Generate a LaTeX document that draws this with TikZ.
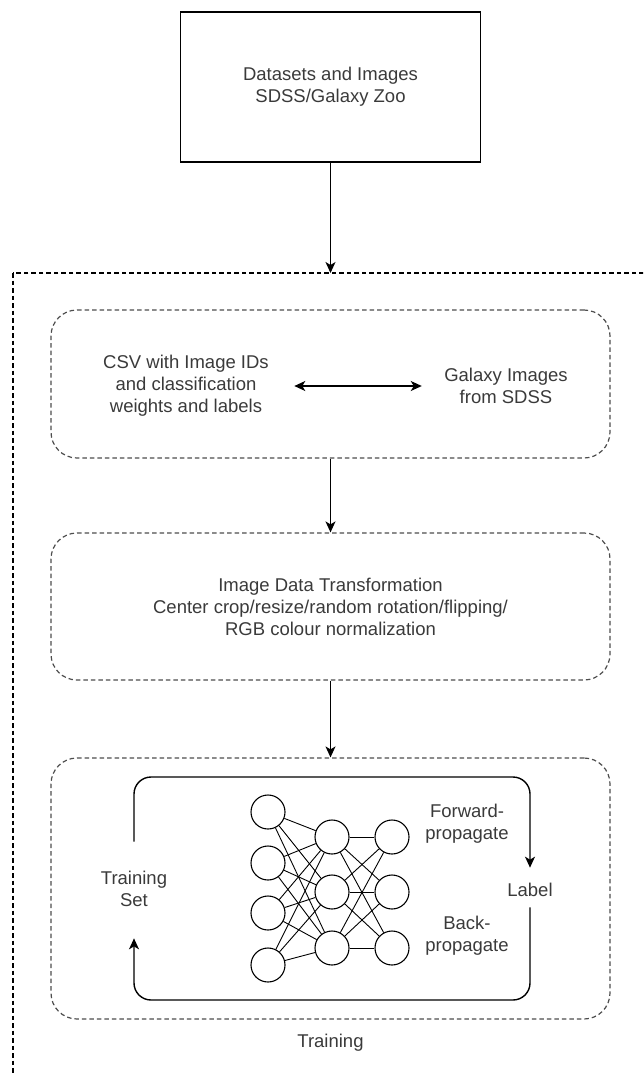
\documentclass[tikz,border=0pt]{standalone}
\usepackage{fontspec}
\setmainfont{Liberation Sans}
\usetikzlibrary{arrows.meta}
\definecolor{txtgray}{HTML}{3A3A3A}
\definecolor{dashgray}{HTML}{4D4D4D}

\begin{document}
\begin{tikzpicture}[x=1pt, y=-1pt,
    every node/.style={font=\fontsize{18.5}{22}\selectfont, text=txtgray, align=center},
    box/.style={draw, line width=1.4pt, minimum width=300pt, minimum height=150pt},
    stage/.style={draw=dashgray, dash pattern=on 4.5pt off 3pt, line width=1.2pt, rounded corners=26pt, minimum width=559pt},
    neuron/.style={draw, circle, line width=1.1pt, minimum size=34pt, inner sep=0pt},
    flow/.style={line width=1.4pt, -{Stealth[length=11pt, width=10pt, inset=3pt]}},
    link/.style={line width=0.9pt}]
    \useasboundingbox (0,0) rectangle (643,1073);
    \clip (0,0) rectangle (643,1073);

    \draw[dash pattern=on 4.5pt off 3pt, line width=1.2pt] (13,273) rectangle (700,1120);
    \coordinate (frametop) at (330.5,273);

    \node (data) [box] at (330.5,87) {Datasets and Images\\SDSS/Galaxy Zoo};
    \draw[flow] (data) -- (frametop);

    \node (prep) [stage, minimum height=148pt] at (330.5,384) {};
    \node (csv) at (186,386) {CSV with Image IDs\\and classification\\weights and labels};
    \node (galaxy) at (506,386) {Galaxy Images\\from SDSS};
    \draw[line width=1.4pt, {Stealth[length=11pt, width=10pt, inset=3pt]}-{Stealth[length=11pt, width=10pt, inset=3pt]},
        shorten <=22pt, shorten >=19pt] (csv) -- (galaxy);

    \node (transform) [stage, minimum height=147pt] at (330.5,606.5)
        {Image Data Transformation\\Center crop/resize/random rotation/flipping/\\RGB colour normalization};
    \draw[flow] (prep) -- (transform);

    \node (train) [stage, minimum height=261pt] at (330.5,888.5) {};
    \draw[flow] (transform) -- (train);
    \node (trainlbl) at (330.5,1043) {Training};

    \foreach \i/\y in {1/812,2/863,3/913,4/965}
        \node[neuron] (a\i) at (268,\y) {};
    \foreach \i/\y in {1/837,2/892,3/948} {
        \node[neuron] (b\i) at (332,\y) {};
        \node[neuron] (c\i) at (392,\y) {};
    }
    \foreach \i in {1,...,4}
        \foreach \j in {1,2,3}
            \draw[link] (a\i) -- (b\j);
    \foreach \i in {1,2,3}
        \foreach \j in {1,2,3}
            \draw[link] (b\i) -- (c\j);

    \node (trainset) at (134,889) {Training\\Set};
    \node (label) at (530,890) {Label};
    \node (fwd) at (467,824) {Forward-\\propagate};
    \node (back) at (467,936) {Back-\\propagate};
    \coordinate (looptop) at (330,777);
    \coordinate (loopbot) at (330,1000);
    \draw[flow, rounded corners=17pt, shorten <=26pt, shorten >=12pt] (trainset.north) |- (looptop) -| (label.north);
    \draw[flow, rounded corners=17pt, shorten <=7pt, shorten >=28pt] (label.south) |- (loopbot) -| (trainset.south);
\end{tikzpicture}
\end{document}
